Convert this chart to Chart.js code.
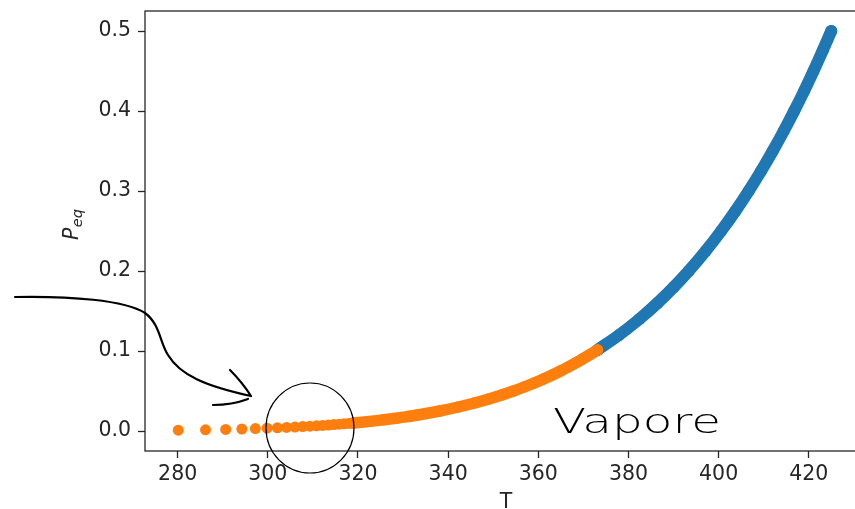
<!DOCTYPE html>
<html>
<head>
<meta charset="utf-8">
<script src="https://cdn.jsdelivr.net/npm/chart.js@4.4.1/dist/chart.umd.min.js"></script>
<style>
  html, body { margin: 0; padding: 0; background: #fff; overflow: hidden; }
  canvas { display: block; }
</style>
</head>
<body>
<canvas id="peq" width="870" height="509"></canvas>
<script>
const xTicks = [280, 300, 320, 340, 360, 380, 400, 420];
const yTicks = [0.0, 0.1, 0.2, 0.3, 0.4, 0.5];

// sparse points at low pressure (T in K, P in MPa)
const tLow = [280.12, 286.17, 290.65, 294.23, 297.23, 299.82, 302.11, 304.16, 306.02, 307.73,
              309.31, 310.78, 312.15, 313.44, 314.66, 315.82, 316.91, 317.96, 318.96];
const pLow = [0.0010, 0.0015, 0.0020, 0.0025, 0.0030, 0.0035, 0.0040, 0.0045, 0.0050, 0.0055,
              0.0060, 0.0065, 0.0070, 0.0075, 0.0080, 0.0085, 0.0090, 0.0095, 0.0100];

// dense orange part, up to ~0.1
const tLiq = [318.96, 322.57, 325.70, 328.46, 330.95, 333.21, 338.11, 342.25, 345.83, 349.01,
              351.87, 354.47, 356.86, 359.08, 361.15, 363.09, 364.91, 366.63, 368.26, 369.81,
              371.29, 372.76, 373.12];
const pLiq = [0.010, 0.012, 0.014, 0.016, 0.018, 0.020, 0.025, 0.030, 0.035, 0.040,
              0.045, 0.050, 0.055, 0.060, 0.065, 0.070, 0.075, 0.080, 0.085, 0.090,
              0.095, 0.100, 0.1013];

// blue part, 0.1 to 0.5
const tVap = [373.12, 377.93, 382.44, 386.45, 390.06, 393.36, 397.12, 400.56, 403.73, 406.67,
              409.42, 412.01, 414.45, 416.76, 418.97, 421.05, 423.05, 424.98];
const pVap = [0.1013, 0.120, 0.140, 0.160, 0.180, 0.200, 0.225, 0.250, 0.275, 0.300,
              0.325, 0.350, 0.375, 0.400, 0.425, 0.450, 0.475, 0.500];

const BLUE = '#1f77b4';
const ORANGE = '#ff7f0e';
const INK = '#262626';
const FONT = 20.5;

function toPoints(ts, ps) {
  return ts.map((t, i) => ({ x: t, y: ps[i] }));
}

const extras = {
  id: 'extras',
  afterDatasetsDraw(chart) {
    const { ctx, chartArea: a } = chart;
    ctx.save();
    ctx.strokeStyle = INK;
    ctx.lineWidth = 1.3;
    ctx.strokeRect(a.left, a.top, a.right - a.left, a.bottom - a.top);
    ctx.restore();
  },
  afterDraw(chart) {
    const ctx = chart.ctx;
    ctx.save();
    ctx.fillStyle = INK;

    // x label
    ctx.font = FONT + 'px "DejaVu Sans"';
    ctx.textAlign = 'center';
    ctx.textBaseline = 'alphabetic';
    ctx.fillText('T', 506, 508);

    // y label P_eq, rotated
    ctx.translate(78, 240);
    ctx.rotate(-Math.PI / 2);
    ctx.textAlign = 'left';
    ctx.font = 'italic ' + FONT + 'px "DejaVu Sans"';
    ctx.fillText('P', 0, 0);
    const w = ctx.measureText('P').width;
    ctx.font = 'italic 14.5px "DejaVu Sans"';
    ctx.fillText('eq', w + 0.5, 3.5);
    ctx.restore();

    // hand drawn notes
    ctx.save();
    ctx.strokeStyle = '#000';
    ctx.lineCap = 'round';
    ctx.lineJoin = 'round';

    ctx.lineWidth = 1.2;
    ctx.beginPath();
    ctx.ellipse(310, 428, 44, 45, 0, 0, Math.PI * 2);
    ctx.stroke();

    ctx.lineWidth = 2.2;
    ctx.beginPath();
    ctx.moveTo(15, 297);
    ctx.bezierCurveTo(70, 296, 125, 300, 145, 313);
    ctx.bezierCurveTo(160, 324, 160, 343, 168, 355);
    ctx.bezierCurveTo(180, 375, 205, 386, 251, 396);
    ctx.moveTo(230, 370);
    ctx.quadraticCurveTo(242, 382, 251, 396);
    ctx.moveTo(213, 405);
    ctx.quadraticCurveTo(232, 405, 248, 399);
    ctx.stroke();

    ctx.fillStyle = '#000';
    ctx.font = '200 34px "DejaVu Sans"';
    ctx.textAlign = 'left';
    ctx.textBaseline = 'alphabetic';
    const tw = ctx.measureText('Vapore').width;
    ctx.translate(553, 433);
    ctx.scale(168 / tw, 1);
    ctx.fillText('Vapore', 0, 0);
    ctx.restore();
  }
};

function createScatterChart(canvasId, datasets) {
  const canvas = document.getElementById(canvasId);
  if (!canvas) return;

  const ctx = canvas.getContext('2d');

  new Chart(ctx, {
    type: 'scatter',
    data: { datasets: datasets },
    options: {
      responsive: false,
      animation: false,
      devicePixelRatio: 1,
      layout: { padding: { top: 11, right: 4, left: 0, bottom: 0 } },
      plugins: {
        legend: { display: false },
        tooltip: { enabled: false }
      },
      scales: {
        x: {
          type: 'linear',
          min: 272.75,
          max: 432.25,
          afterBuildTicks: (s) => { s.ticks = xTicks.map(v => ({ value: v })); },
          afterFit: (s) => { s.height = 58; s.paddingLeft = 0; s.paddingRight = 0; },
          grid: { drawOnChartArea: false, drawTicks: true, tickLength: 7, tickColor: INK, tickWidth: 1.3 },
          border: { display: false },
          ticks: {
            color: INK,
            padding: 4,
            maxRotation: 0,
            font: { family: 'DejaVu Sans', size: FONT },
            callback: (v) => String(v)
          }
        },
        y: {
          type: 'linear',
          min: -0.025,
          max: 0.525,
          afterBuildTicks: (s) => { s.ticks = yTicks.map(v => ({ value: v })); },
          afterFit: (s) => { s.width = 145; s.paddingTop = 0; s.paddingBottom = 0; },
          grid: { drawOnChartArea: false, drawTicks: true, tickLength: 7, tickColor: INK, tickWidth: 1.3 },
          border: { display: false },
          ticks: {
            color: INK,
            padding: 7,
            font: { family: 'DejaVu Sans', size: FONT },
            callback: (v) => v.toFixed(1)
          }
        }
      }
    },
    plugins: [extras]
  });
}

createScatterChart('peq', [
  {
    label: 'liquido',
    data: toPoints(tLow, pLow),
    backgroundColor: ORANGE,
    borderWidth: 0,
    pointRadius: 5.5,
    showLine: false
  },
  {
    label: 'liquido',
    data: toPoints(tLiq, pLiq),
    backgroundColor: ORANGE,
    borderColor: ORANGE,
    borderWidth: 11.5,
    borderCapStyle: 'round',
    borderJoinStyle: 'round',
    pointRadius: 5.75,
    pointBorderWidth: 0,
    showLine: true,
    tension: 0.3
  },
  {
    label: 'vapore',
    data: toPoints(tVap, pVap),
    backgroundColor: BLUE,
    borderColor: BLUE,
    borderWidth: 12,
    borderCapStyle: 'round',
    borderJoinStyle: 'round',
    pointRadius: 6,
    pointBorderWidth: 0,
    showLine: true,
    tension: 0.3
  }
]);
</script>
</body>
</html>
